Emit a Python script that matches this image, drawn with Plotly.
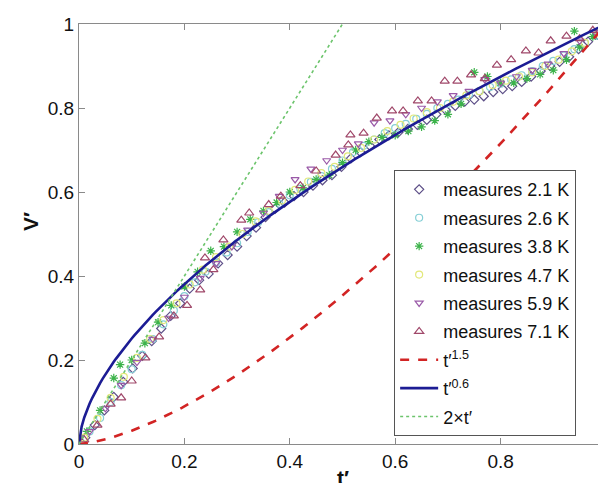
import plotly.graph_objects as go

# ---- data ----
t_21 = [0.012,0.03,0.048,0.066,0.084,0.102,0.12,0.138,0.156,0.174,0.192,0.21,0.228,0.246,0.264,0.282,0.3,0.318,0.336,0.354,0.372,0.39,0.408,0.426,0.444,0.462,0.48,0.498,0.516,0.534,0.552,0.57,0.588,0.606,0.624,0.642,0.66,0.678,0.696,0.714,0.732,0.75,0.768,0.786,0.804,0.822,0.84,0.858,0.876,0.894,0.912,0.93,0.948,0.966,0.984,1.0]
v_21 = [0.015,0.045,0.08,0.112,0.148,0.18,0.21,0.245,0.275,0.305,0.335,0.37,0.39,0.405,0.43,0.45,0.47,0.495,0.515,0.54,0.56,0.575,0.59,0.6,0.615,0.628,0.64,0.66,0.68,0.695,0.71,0.725,0.735,0.742,0.75,0.76,0.772,0.785,0.795,0.805,0.815,0.82,0.828,0.838,0.845,0.852,0.862,0.875,0.888,0.9,0.91,0.922,0.94,0.958,0.975,0.995]

t_26 = [0.02,0.04,0.06,0.08,0.1,0.12,0.14,0.16,0.18,0.2,0.22,0.24,0.26,0.28,0.3,0.32,0.34,0.36,0.38,0.4,0.42,0.44,0.46,0.48,0.5,0.52,0.54,0.56,0.58,0.6,0.62,0.64,0.66,0.68,0.7,0.72,0.74,0.76,0.78,0.8,0.82,0.84,0.86,0.88,0.9,0.92,0.94,0.96,0.98,1.0]
v_26 = [0.03,0.062,0.1,0.14,0.178,0.212,0.25,0.285,0.318,0.352,0.385,0.41,0.432,0.456,0.478,0.505,0.528,0.552,0.572,0.592,0.608,0.624,0.638,0.655,0.675,0.695,0.71,0.725,0.74,0.752,0.762,0.774,0.786,0.8,0.81,0.82,0.832,0.84,0.85,0.858,0.868,0.878,0.888,0.9,0.912,0.925,0.94,0.955,0.972,0.995]

t_38 = [0.015,0.04,0.066,0.078,0.1,0.125,0.15,0.175,0.2,0.225,0.25,0.275,0.3,0.325,0.35,0.375,0.4,0.425,0.45,0.475,0.5,0.525,0.55,0.575,0.6,0.625,0.65,0.675,0.7,0.725,0.75,0.775,0.8,0.825,0.85,0.875,0.9,0.925,0.94,0.95,0.975,1.0]
v_38 = [0.03,0.08,0.157,0.189,0.2,0.24,0.29,0.33,0.375,0.41,0.46,0.47,0.505,0.535,0.555,0.575,0.6,0.61,0.63,0.64,0.67,0.7,0.72,0.73,0.735,0.745,0.755,0.77,0.785,0.81,0.885,0.875,0.86,0.86,0.87,0.88,0.89,0.915,0.983,0.945,0.97,1.0]

t_47 = [0.01,0.035,0.06,0.085,0.11,0.135,0.16,0.185,0.21,0.235,0.26,0.285,0.31,0.335,0.36,0.385,0.41,0.435,0.46,0.485,0.51,0.535,0.56,0.585,0.61,0.635,0.66,0.685,0.71,0.735,0.76,0.785,0.81,0.835,0.86,0.885,0.91,0.935,0.96,0.985,1.0]
v_47 = [0.015,0.06,0.11,0.16,0.205,0.25,0.295,0.335,0.38,0.415,0.445,0.47,0.5,0.53,0.555,0.58,0.605,0.625,0.645,0.66,0.685,0.705,0.725,0.745,0.76,0.775,0.79,0.8,0.815,0.83,0.84,0.855,0.865,0.875,0.885,0.9,0.915,0.935,0.955,0.978,1.0]

t_59 = [0.02,0.05,0.08,0.11,0.14,0.17,0.2,0.23,0.26,0.29,0.32,0.35,0.38,0.41,0.44,0.47,0.5,0.53,0.56,0.59,0.62,0.65,0.68,0.71,0.74,0.77,0.8,0.83,0.86,0.89,0.92,0.95,0.98,1.0]
v_59 = [0.03,0.085,0.14,0.195,0.25,0.3,0.35,0.395,0.43,0.47,0.51,0.55,0.59,0.63,0.655,0.675,0.7,0.715,0.765,0.77,0.785,0.8,0.815,0.83,0.84,0.868,0.86,0.875,0.89,0.905,0.93,0.96,0.98,1.0]

t_71 = [0.01,0.035,0.06,0.08,0.1,0.126,0.152,0.18,0.205,0.23,0.239,0.255,0.274,0.308,0.323,0.36,0.383,0.42,0.45,0.487,0.511,0.515,0.54,0.565,0.594,0.615,0.643,0.669,0.694,0.718,0.744,0.77,0.793,0.82,0.848,0.872,0.895,0.925,0.95,0.975,1.0]
v_71 = [0.01,0.045,0.095,0.11,0.15,0.205,0.255,0.305,0.33,0.367,0.443,0.415,0.486,0.533,0.55,0.57,0.59,0.615,0.65,0.688,0.712,0.736,0.74,0.776,0.793,0.793,0.817,0.817,0.864,0.864,0.879,0.87,0.902,0.915,0.936,0.931,0.96,0.971,0.965,0.985,1.0]

series_names = ["measures 2.1 K", "measures 2.6 K", "measures 3.8 K",
                "measures 4.7 K", "measures 5.9 K", "measures 7.1 K"]

# model curves named in the legend: t'^1.5, t'^0.6 and 2*t'
exp_a = 1.5
exp_b = 0.6
slope_c = 2.0
t_model = [i / 200 for i in range(201)]

tick_vals = [0, 0.2, 0.4, 0.6, 0.8, 1]
tick_text = ["0", "0.2", "0.4", "0.6", "0.8", "1"]

x_title = "t′"
y_title = "V′"

# ---- figure ----
FONT = "Liberation Sans, Arial, sans-serif"
fig = go.Figure()

styles = [
    (t_21, v_21, "diamond-open", "#5e5088", 7),
    (t_26, v_26, "circle-open", "#86cfd6", 7),
    (t_38, v_38, "asterisk-open", "#3cb34a", 7),
    (t_47, v_47, "circle-open", "#e2e87a", 7),
    (t_59, v_59, "triangle-down-open", "#9a5aa8", 7),
    (t_71, v_71, "triangle-up-open", "#a0486a", 8),
]
for i, ((tx, vy, sym, col, sz), name) in enumerate(zip(styles, series_names)):
    fig.add_trace(go.Scatter(
        x=tx, y=vy, mode="markers", name=name, legendgroup=f"g{i}",
        marker=dict(symbol=sym, size=sz, color=col, line=dict(color=col, width=1.2)),
    ))

fig.add_trace(go.Scatter(
    x=t_model, y=[t ** exp_a for t in t_model], mode="lines",
    name="t′<sup>1.5</sup>", legendgroup="g6",
    line=dict(color="#d22424", width=2.6, dash="dash"),
))
fig.add_trace(go.Scatter(
    x=t_model, y=[t ** exp_b for t in t_model], mode="lines",
    name="t′<sup>0.6</sup>", legendgroup="g7",
    line=dict(color="#1c1c94", width=2.6),
))
fig.add_trace(go.Scatter(
    x=[t for t in t_model if slope_c * t <= 1.0001],
    y=[slope_c * t for t in t_model if slope_c * t <= 1.0001], mode="lines",
    name="2×t′", legendgroup="g8",
    line=dict(color="#6cc46c", width=1.6, dash="dot"),
))

axis_common = dict(
    range=[0, 1], tickvals=tick_vals, ticktext=tick_text,
    showline=True, mirror="ticks", linecolor="#8a8a8a", linewidth=1,
    ticks="inside", ticklen=6, tickcolor="#8a8a8a",
    showgrid=False, zeroline=False, ticklabeloverflow="allow",
    tickfont=dict(family=FONT, size=19, color="#111"),
)
fig.update_layout(
    width=606, height=483,
    margin=dict(l=71, r=3, t=16, b=47),
    paper_bgcolor="white", plot_bgcolor="white",
    xaxis=dict(**axis_common),
    yaxis=dict(**axis_common),
    legend=dict(
        x=0.598, y=0.652, xanchor="left", yanchor="top",
        bgcolor="white", bordercolor="#555", borderwidth=1,
        font=dict(family=FONT, size=18, color="#111"),
        itemwidth=38, tracegroupgap=2,
    ),
    showlegend=True,
    annotations=[
        dict(text=f"<b>{x_title}</b>", x=0.5, y=-0.08, xref="paper", yref="paper",
             xanchor="center", yanchor="middle", showarrow=False,
             font=dict(family=FONT, size=21, color="#111")),
        dict(text=f"<b>{y_title}</b>", x=-0.092, y=0.53, xref="paper", yref="paper",
             xanchor="center", yanchor="middle", showarrow=False, textangle=-90,
             font=dict(family=FONT, size=21, color="#111")),
    ],
)

fig.write_html("out.html")
